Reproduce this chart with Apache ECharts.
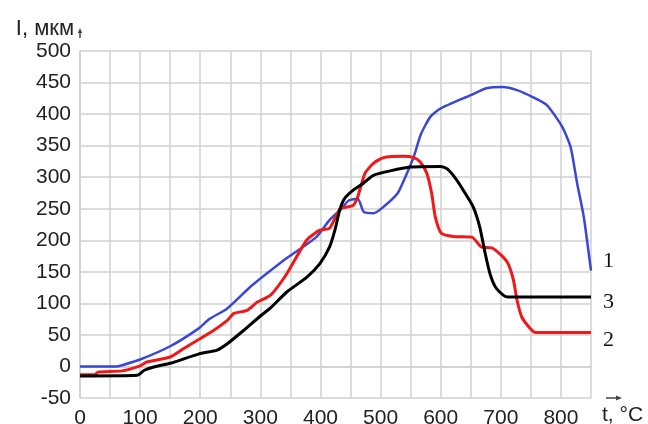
<!DOCTYPE html>
<html>
<head>
<meta charset="utf-8">
<script src="https://cdn.jsdelivr.net/npm/echarts@6/dist/echarts.min.js"></script>
<style>
  html, body { margin: 0; padding: 0; background: #fff; }
  #chart { width: 648px; height: 424px; }
</style>
</head>
<body>
<div id="chart"></div>
<script>
// Curve 1 (blue): temperature, °C and displacement, мкм
var t1 = [0, 60, 70, 100, 150, 197, 215, 245, 283, 293, 343, 393, 415, 435, 447, 462, 472, 489, 505, 528, 541, 555, 567, 583, 600, 650, 676, 703, 727, 753, 777, 802, 816, 827, 838, 850];
var i1 = [0, 0, 2, 11, 32, 60, 75, 92, 126, 134, 171, 205, 232, 250, 263, 266, 245, 243, 253, 274, 300, 332, 368, 396, 409, 430, 441, 443, 438, 427, 414, 380, 348, 290, 237, 152];

// Curve 2 (red)
var t2 = [0, 25, 30, 70, 100, 111, 150, 172, 198, 222, 245, 256, 278, 295, 317, 344, 377, 399, 415, 433, 454, 462, 474, 488, 505, 538, 555, 566, 577, 585, 591, 601, 621, 652, 668, 685, 701, 712, 721, 727, 735, 749, 757, 850];
var i2 = [-13, -13, -9, -7, 1, 7, 15, 28, 43, 57, 73, 84, 89, 102, 113, 147, 200, 216, 219, 250, 255, 269, 306, 322, 331, 333, 331, 324, 306, 274, 237, 211, 206, 205, 189, 188, 176, 163, 137, 105, 78, 60, 54, 54];

// Curve 3 (black)
var t3 = [0, 95, 107, 126, 150, 198, 228, 245, 272, 300, 316, 344, 378, 399, 415, 424, 432, 440, 454, 471, 488, 516, 549, 600, 611, 627, 641, 654, 665, 674, 682, 691, 704, 712, 850];
var i3 = [-15, -14, -6, 0, 5, 20, 26, 36, 57, 80, 92, 118, 142, 163, 189, 216, 248, 266, 279, 290, 303, 310, 316, 317, 313, 295, 274, 253, 221, 179, 147, 126, 113, 110, 110];

var curveNames = ['1', '2', '3'];
var curveColors = ['#3a46d6', '#f01818', '#000000'];
var xTitle = 't, °C';
var yTitle = 'I, мкм';

function pairs(xs, ys) {
  return xs.map(function (x, k) { return [x, ys[k]]; });
}

var gridColor = '#d0d0d0';
var labelFont = 'Liberation Sans, Arial, sans-serif';

function curve(idx, xs, ys, width, labelDy) {
  return {
    name: curveNames[idx],
    type: 'line',
    data: pairs(xs, ys),
    showSymbol: false,
    smooth: 0.2,
    lineStyle: { color: curveColors[idx], width: width },
    itemStyle: { color: curveColors[idx] },
    endLabel: {
      show: true,
      formatter: curveNames[idx],
      distance: 12,
      offset: [0, labelDy],
      fontFamily: 'Liberation Serif, Times New Roman, serif',
      fontSize: 22,
      color: '#111'
    },
    silent: true,
    animation: false
  };
}

var chart = echarts.init(document.getElementById('chart'), null, { renderer: 'canvas' });
chart.setOption({
  animation: false,
  backgroundColor: '#fff',
  grid: { left: 80, right: 57, top: 51, bottom: 26, containLabel: false, outerBoundsMode: 'none' },
  xAxis: {
    type: 'value',
    min: 0, max: 850, interval: 50,
    axisLine: { show: true, lineStyle: { color: gridColor, width: 1.5 } },
    axisTick: { show: false },
    splitLine: { show: true, lineStyle: { color: gridColor, width: 1.5 } },
    axisLabel: {
      margin: 10,
      fontFamily: labelFont, fontSize: 21, color: '#222',
      formatter: function (v) { return v % 100 === 0 ? String(v) : ''; }
    }
  },
  yAxis: {
    type: 'value',
    min: -50, max: 500, interval: 50,
    name: yTitle,
    nameLocation: 'end',
    nameGap: 11,
    nameMoveOverlap: false,
    nameTextStyle: {
      fontFamily: labelFont, fontSize: 22, color: '#222',
      align: 'right', verticalAlign: 'bottom', padding: [0, 6, 0, 0]
    },
    axisLine: { show: true, lineStyle: { color: gridColor, width: 1.5 } },
    axisTick: { show: false },
    splitLine: { show: true, lineStyle: { color: gridColor, width: 1.5 } },
    axisLabel: {
      margin: 9,
      fontFamily: labelFont, fontSize: 21, color: '#222'
    }
  },
  series: [
    curve(0, t1, i1, 2.5, -9),
    curve(1, t2, i2, 3, 8),
    curve(2, t3, i3, 3, 5)
  ],
  graphic: [
    // temperature axis title, set on the tick-label row to the right of the plot
    {
      type: 'text', left: 602, top: 405,
      style: { text: xTitle, font: '21px ' + labelFont, fill: '#222' }
    },
    // small arrow stubs at the axis ends
    { type: 'line', shape: { x1: 606, y1: 398, x2: 620, y2: 398 }, style: { stroke: '#444', lineWidth: 1.5 } },
    { type: 'polygon', shape: { points: [[622, 398], [616, 395.5], [616, 400.5]] }, style: { fill: '#444' } },
    { type: 'line', shape: { x1: 80, y1: 31, x2: 80, y2: 38 }, style: { stroke: '#444', lineWidth: 1.5 } },
    { type: 'polygon', shape: { points: [[80, 28], [77.8, 33], [82.2, 33]] }, style: { fill: '#444' } }
  ]
});
</script>
</body>
</html>
